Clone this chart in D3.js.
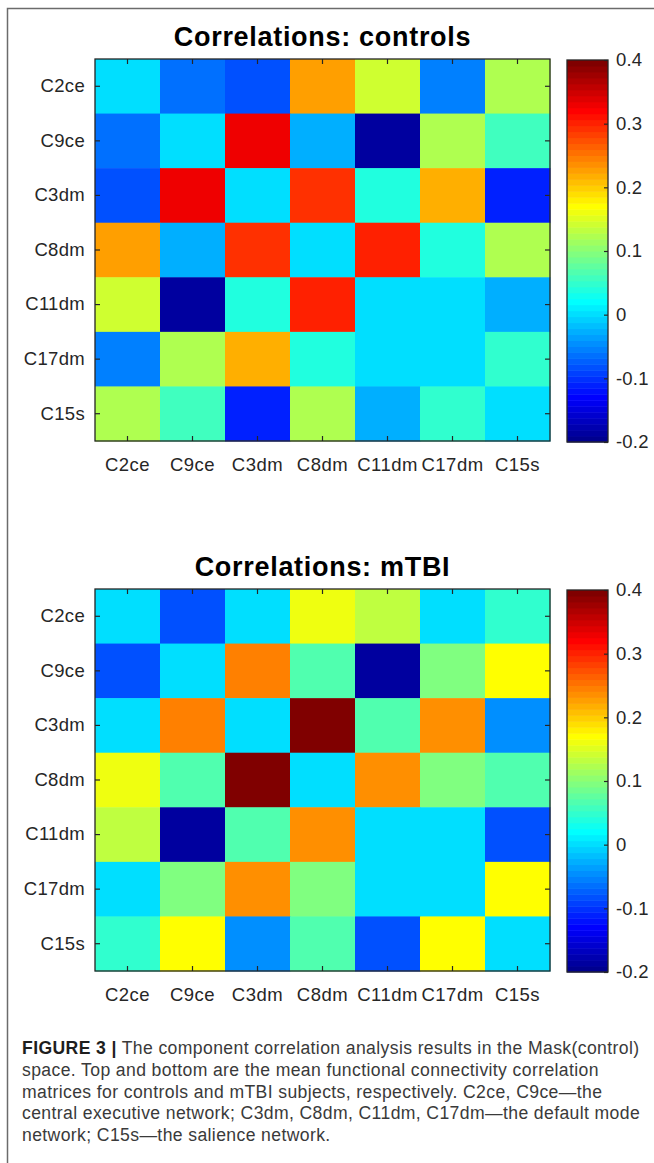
<!DOCTYPE html>
<html>
<head>
<meta charset="utf-8">
<script src="https://cdn.jsdelivr.net/npm/d3@7"></script>
<style>
  body { margin: 0; background: #fff; }
  svg { display: block; font-family: "Liberation Sans", Arial, Helvetica, sans-serif; }
</style>
</head>
<body>
<div id="chart"></div>
<script>
const labels = ["C2ce", "C9ce", "C3dm", "C8dm", "C11dm", "C17dm", "C15s"];

const controls = [
  [0, -0.06, -0.085, 0.225, 0.145, -0.055, 0.12],
  [-0.06, 0, 0.325, -0.025, -0.185, 0.12, 0.0625],
  [-0.085, 0.325, 0, 0.2875, 0.035, 0.215, -0.115],
  [0.225, -0.025, 0.2875, 0, 0.305, 0.035, 0.12],
  [0.145, -0.185, 0.035, 0.305, 0, 0, -0.025],
  [-0.055, 0.12, 0.215, 0.035, 0, 0, 0.0475],
  [0.12, 0.0625, -0.115, 0.12, -0.025, 0.0475, 0]
];
const mtbi = [
  [0, -0.0875, 0, 0.16, 0.13, 0, 0.045],
  [-0.0875, 0, 0.25, 0.07, -0.185, 0.0925, 0.17],
  [0, 0.25, 0, 0.4, 0.07, 0.235, -0.0425],
  [0.16, 0.07, 0.4, 0, 0.235, 0.0925, 0.07],
  [0.13, -0.185, 0.07, 0.235, 0, 0, -0.0875],
  [0, 0.0925, 0.235, 0.0925, 0, 0, 0.17],
  [0.045, 0.17, -0.0425, 0.07, -0.0875, 0.17, 0]
];
const colorDomain = [-0.2, 0.4];
const colorTicks = [-0.2, -0.1, 0, 0.1, 0.2, 0.3, 0.4];
const titles = ["Correlations: controls", "Correlations: mTBI"];

const captionLines = [
  "space. Top and bottom are the mean functional connectivity correlation",
  "matrices for controls and mTBI subjects, respectively. C2ce, C9ce\u2014the",
  "central executive network; C3dm, C8dm, C11dm, C17dm\u2014the default mode",
  "network; C15s\u2014the salience network."
];

const W = 654, H = 1163;
const AXIS_COL = "#262626";

// matlab jet(64)
function jet64() {
  const m = 64, n = 16, cols = [];
  const u = [];
  for (let i = 1; i <= n; i++) u.push(i / n);
  for (let i = 0; i < n - 1; i++) u.push(1);
  for (let i = n; i >= 1; i--) u.push(i / n);
  const gOff = Math.ceil(n / 2) - (m % 4 === 1 ? 1 : 0);
  const chan = (off) => {
    const c = new Array(m).fill(0);
    u.forEach((v, k) => { const idx = off + k; if (idx >= 1 && idx <= m) c[idx - 1] = v; });
    return c;
  };
  const g = chan(gOff + 1), r = chan(gOff + 1 + n), b = chan(gOff + 1 - n);
  for (let i = 0; i < m; i++) cols.push(d3.rgb(r[i] * 255, g[i] * 255, b[i] * 255).formatHex());
  return cols;
}
const jet = jet64();
const color = d3.scaleQuantize().domain(colorDomain).range(jet);

const svg = d3.select("#chart").append("svg")
  .attr("width", W).attr("height", H);

svg.append("rect").attr("width", W).attr("height", H).attr("fill", "#fff");

// frame lines
svg.append("path")
  .attr("d", `M${W},8.5H7.5V${H}`)
  .attr("fill", "none").attr("stroke", "#6b6b6b").attr("stroke-width", 1.5);

function styleAxis(a) {
  a.select(".domain").remove();
  a.selectAll("line").attr("stroke", AXIS_COL).attr("stroke-width", 1.2);
  a.selectAll("text").attr("fill", AXIS_COL).attr("font-size", 18.5)
    .attr("letter-spacing", 0.5)
    .attr("font-family", "'Liberation Sans', Arial, sans-serif");
}

function drawPanel(matrix, title, top) {
  const g = svg.append("g");
  const x = d3.scaleBand().domain(labels).range([95, 550]);
  const y = d3.scaleBand().domain(labels).range([top, top + 382]);

  g.append("text")
    .attr("x", 322.5).attr("y", top - 13)
    .attr("text-anchor", "middle")
    .attr("font-size", 27).attr("font-weight", "bold")
    .attr("letter-spacing", 0.7)
    .attr("fill", "#000")
    .text(title);

  const cells = [];
  matrix.forEach((row, i) => row.forEach((v, j) => cells.push({ r: labels[i], c: labels[j], v })));

  g.selectAll("rect.cell").data(cells).join("rect")
    .attr("class", "cell")
    .attr("x", d => x(d.c)).attr("y", d => y(d.r))
    .attr("width", x.bandwidth() + 0.5).attr("height", y.bandwidth() + 0.5)
    .attr("fill", d => color(d.v));

  const left = g.append("g").attr("transform", "translate(95,0)")
    .call(d3.axisLeft(y).tickSize(-5).tickPadding(10));
  const bottom = g.append("g").attr("transform", `translate(0,${top + 382})`)
    .call(d3.axisBottom(x).tickSize(-5).tickPadding(17));
  const topAx = g.append("g").attr("transform", `translate(0,${top})`)
    .call(d3.axisTop(x).tickSize(-5).tickFormat(""));
  const right = g.append("g").attr("transform", "translate(550,0)")
    .call(d3.axisRight(y).tickSize(-5).tickFormat(""));
  [left, bottom, topAx, right].forEach(styleAxis);
  left.selectAll("text").attr("letter-spacing", 0.3);

  g.append("rect")
    .attr("x", 95).attr("y", top).attr("width", 455).attr("height", 382)
    .attr("fill", "none").attr("stroke", AXIS_COL).attr("stroke-width", 1.3);

  // colorbar
  const cb = d3.scaleLinear().domain(colorDomain).range([top + 383, top + 1]);
  const step = (colorDomain[1] - colorDomain[0]) / jet.length;
  g.selectAll("rect.cb").data(jet).join("rect")
    .attr("class", "cb")
    .attr("x", 567)
    .attr("y", (d, i) => cb(colorDomain[0] + (i + 1) * step))
    .attr("width", 41)
    .attr("height", (d, i) => cb(colorDomain[0] + i * step) - cb(colorDomain[0] + (i + 1) * step) + 0.5)
    .attr("fill", d => d);

  const cbAx = g.append("g").attr("transform", "translate(608,0)")
    .call(d3.axisRight(cb).tickValues(colorTicks).tickSize(-4).tickPadding(8)
      .tickFormat(d => Math.abs(d) < 1e-9 ? "0" : d.toFixed(1)));
  styleAxis(cbAx);
  cbAx.selectAll("text").attr("letter-spacing", 0.2);

  g.append("rect")
    .attr("x", 567).attr("y", top + 1).attr("width", 41).attr("height", 382)
    .attr("fill", "none").attr("stroke", AXIS_COL).attr("stroke-width", 1.3);
}

drawPanel(controls, titles[0], 59);
drawPanel(mtbi, titles[1], 589);

// caption
const cap = svg.append("g").attr("font-size", 17.6).attr("letter-spacing", 0.38).attr("fill", "#3a3a3a");
const first = cap.append("text").attr("x", 22).attr("y", 1054);
first.append("tspan").attr("font-weight", "bold").attr("fill", "#1e1e1e").text("FIGURE 3 |");
first.append("tspan").text(" The component correlation analysis results in the Mask(control)");
cap.selectAll("text.line").data(captionLines).join("text")
  .attr("class", "line")
  .attr("x", 22)
  .attr("y", (d, i) => 1076 + i * 21.7)
  .text(d => d);
</script>
</body>
</html>
